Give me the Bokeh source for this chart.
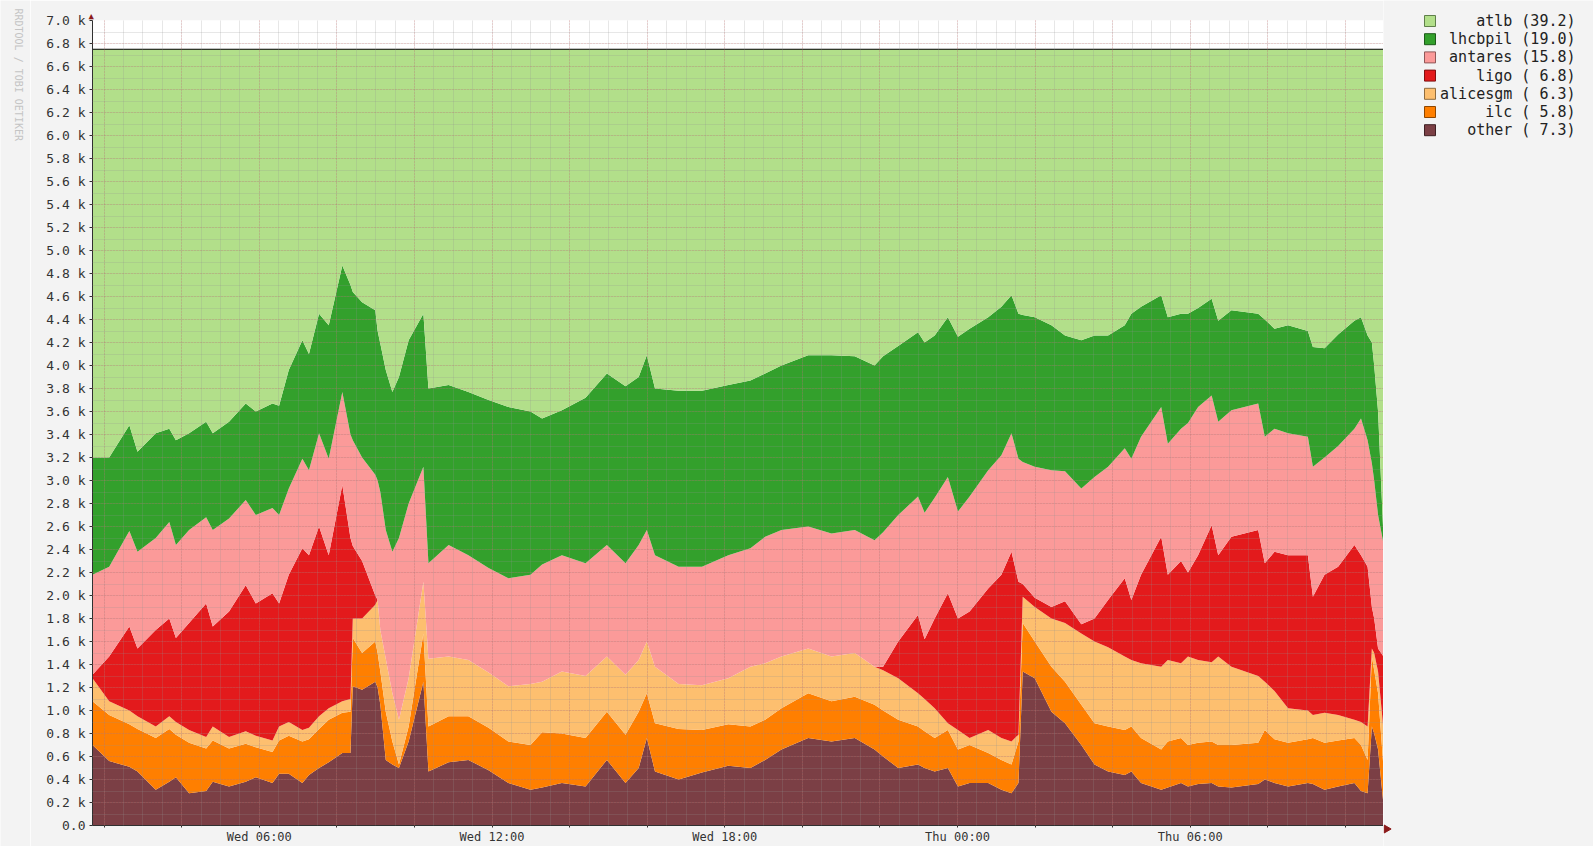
import math
from bokeh.plotting import figure
from bokeh.layouts import row
from bokeh.models import Range1d, FixedTicker, CustomJSTickFormatter, Title
from bokeh.core.properties import value
from bokeh.embed import file_html
from bokeh.resources import INLINE

# ---------------- data (hours since Wed 00:00, stacked levels in k) ----------------
hours = [1.70, 2.13, 2.65, 2.86, 3.33, 3.68, 3.85, 4.19, 4.63, 4.80,
         5.22, 5.65, 5.91, 6.34, 6.51, 6.76, 7.11, 7.28, 7.54, 7.79,
         8.14, 8.35, 8.41, 8.65, 8.99, 9.05, 9.12, 9.26, 9.43, 9.60,
         9.85, 10.23, 10.36, 10.88, 11.39, 11.91, 12.42, 12.99, 13.29, 13.80,
         14.41, 14.96, 15.44, 15.78, 15.99, 16.20, 16.81, 17.41, 18.09, 18.66,
         19.04, 19.46, 20.15, 20.75, 21.35, 21.86, 22.08, 22.47, 22.98, 23.15,
         23.41, 23.75, 24.01, 24.31, 24.79, 25.13, 25.39, 25.57, 25.68, 25.99,
         26.42, 26.77, 27.19, 27.53, 27.88, 28.31, 28.48, 28.73, 29.25, 29.42,
         29.76, 29.94, 30.20, 30.55, 30.72, 31.06, 31.75, 31.92, 32.17, 32.52,
         33.03, 33.16, 33.46, 33.81, 34.23, 34.40, 34.57, 34.68, 34.74, 34.84,
         34.98]

other_top = [.70, .56, .51, .47, .31, .38, .42, .28, .30, .38,
             .34, .38, .42, .37, .45, .45, .37, .44, .50, .55,
             .63, .63, 1.21, 1.18, 1.25, 1.20, 1.05, .57, .53, .50,
             .73, 1.25, .47, .55, .57, .48, .37, .31, .33, .37,
             .34, .57, .37, .50, .76, .47, .40, .46, .52, .50,
             .57, .66, .76, .73, .76, .66, .60, .50, .53, .50,
             .47, .50, .34, .37, .37, .31, .28, .37, 1.34, 1.28,
             .99, .89, .70, .53, .47, .44, .47, .37, .31, .33,
             .37, .34, .36, .37, .34, .33, .36, .40, .37, .34,
             .37, .36, .31, .34, .37, .30, .28, .86, .80, .66,
             .18]

ilc_top = [1.08, .96, .88, .84, .76, .84, .79, .72, .67, .74,
           .67, .71, .68, .64, .74, .78, .73, .75, .84, .92,
           .98, .99, 1.63, 1.50, 1.60, 1.50, 1.34, .99, .73, .53,
           .86, 1.67, .86, .95, .95, .85, .73, .70, .81, .80,
           .76, .99, .79, .99, 1.15, .89, .84, .83, .88, .86,
           .92, 1.02, 1.15, 1.08, 1.12, 1.05, 1.00, .92, .86, .82,
           .76, .83, .66, .70, .63, .57, .53, .73, 1.76, 1.60,
           1.38, 1.25, 1.05, .89, .86, .83, .86, .76, .66, .73,
           .76, .70, .72, .73, .70, .70, .72, .83, .75, .72,
           .75, .76, .72, .74, .76, .70, .57, 1.47, 1.35, 1.15,
           .50]

alicesgm_top = [1.28, 1.08, 1.00, .95, .86, .95, .90, .83, .77, .86,
                .77, .82, .78, .74, .86, .90, .83, .85, .95, 1.02,
                1.08, 1.10, 1.80, 1.80, 1.92, 1.96, 1.70, 1.45, 1.15, .92,
                1.28, 2.12, 1.45, 1.47, 1.44, 1.33, 1.21, 1.23, 1.25, 1.34,
                1.30, 1.47, 1.31, 1.44, 1.60, 1.38, 1.23, 1.22, 1.28, 1.38,
                1.41, 1.47, 1.54, 1.47, 1.50, 1.38, 1.35, 1.28, 1.15, 1.10,
                1.02, .89, .83, .76, .83, .76, .73, .79, 1.99, 1.90,
                1.80, 1.76, 1.67, 1.60, 1.55, 1.47, 1.44, 1.41, 1.38, 1.44,
                1.41, 1.47, 1.44, 1.42, 1.47, 1.38, 1.30, 1.25, 1.17, 1.02,
                1.00, .96, .98, .96, .92, .90, .86, 1.54, 1.50, 1.34,
                .83]

ligo_top = [1.31, 1.47, 1.73, 1.54, 1.70, 1.80, 1.63, 1.76, 1.93, 1.73,
            1.86, 2.09, 1.93, 2.02, 1.93, 2.18, 2.41, 2.35, 2.60, 2.35,
            2.96, 2.50, 2.43, 2.30, 2.00, 1.96, 1.70, 1.45, 1.15, .92,
            1.28, 2.12, 1.45, 1.47, 1.44, 1.33, 1.21, 1.23, 1.25, 1.34,
            1.30, 1.47, 1.31, 1.44, 1.60, 1.38, 1.23, 1.22, 1.28, 1.38,
            1.41, 1.47, 1.54, 1.47, 1.50, 1.38, 1.38, 1.60, 1.83, 1.62,
            1.80, 2.02, 1.80, 1.86, 2.06, 2.18, 2.38, 2.12, 2.10, 1.98,
            1.90, 1.95, 1.75, 1.80, 1.96, 2.15, 1.96, 2.18, 2.51, 2.18,
            2.30, 2.20, 2.35, 2.61, 2.35, 2.51, 2.57, 2.28, 2.38, 2.35,
            2.35, 1.99, 2.18, 2.25, 2.44, 2.35, 2.25, 1.90, 1.80, 1.54,
            1.47]

antares_top = [2.18, 2.25, 2.56, 2.38, 2.50, 2.64, 2.44, 2.57, 2.68, 2.57,
               2.67, 2.83, 2.70, 2.76, 2.70, 2.93, 3.19, 3.09, 3.41, 3.19,
               3.77, 3.40, 3.35, 3.20, 3.05, 3.00, 2.90, 2.57, 2.38, 2.50,
               2.80, 3.12, 2.28, 2.44, 2.35, 2.24, 2.15, 2.18, 2.27, 2.35,
               2.28, 2.44, 2.28, 2.44, 2.57, 2.35, 2.25, 2.25, 2.35, 2.41,
               2.51, 2.57, 2.60, 2.54, 2.57, 2.48, 2.55, 2.70, 2.86, 2.72,
               2.85, 3.03, 2.73, 2.86, 3.09, 3.22, 3.41, 3.19, 3.16, 3.12,
               3.09, 3.08, 2.93, 3.03, 3.12, 3.28, 3.19, 3.38, 3.64, 3.32,
               3.45, 3.50, 3.64, 3.74, 3.51, 3.61, 3.67, 3.38, 3.45, 3.41,
               3.38, 3.12, 3.20, 3.30, 3.45, 3.54, 3.35, 3.15, 3.00, 2.70,
               2.45]

lhcbpil_top = [3.20, 3.20, 3.48, 3.25, 3.41, 3.45, 3.35, 3.41, 3.51, 3.41,
               3.51, 3.67, 3.60, 3.67, 3.65, 3.96, 4.22, 4.10, 4.45, 4.35,
               4.87, 4.70, 4.64, 4.55, 4.48, 4.30, 4.19, 3.96, 3.77, 3.90,
               4.22, 4.45, 3.80, 3.83, 3.77, 3.70, 3.64, 3.60, 3.54, 3.61,
               3.72, 3.93, 3.82, 3.90, 4.09, 3.80, 3.78, 3.78, 3.83, 3.87,
               3.93, 4.00, 4.09, 4.09, 4.08, 4.00, 4.08, 4.17, 4.29, 4.20,
               4.26, 4.42, 4.25, 4.32, 4.42, 4.51, 4.61, 4.45, 4.44, 4.42,
               4.35, 4.26, 4.22, 4.26, 4.26, 4.35, 4.45, 4.51, 4.61, 4.42,
               4.45, 4.45, 4.50, 4.58, 4.39, 4.48, 4.45, 4.40, 4.32, 4.35,
               4.30, 4.16, 4.15, 4.27, 4.39, 4.42, 4.26, 4.20, 4.00, 3.60,
               2.50]

atlb_level = 6.75  # constant total (top of the stack)

series_names = ["atlb", "lhcbpil", "antares", "ligo", "alicesgm", "ilc", "other"]
series_pct = ["39.2", "19.0", "15.8", " 6.8", " 6.3", " 5.8", " 7.3"]
series_colors = ["#b2df8a", "#33a02c", "#fb9a99", "#e31a1c", "#fdbf6f", "#ff7f00", "#7b3f45"]
series_edge = ["#5f7f4a", "#1c5a19", "#8f5857", "#801010", "#8f6c3f", "#8f4700", "#3f2023"]

x_tick_hours = [6, 12, 18, 24, 30]
x_tick_labels = ["Wed 06:00", "Wed 12:00", "Wed 18:00", "Thu 00:00", "Thu 06:00"]

# ---------------- layout geometry ----------------
FONT = "DejaVu Sans Mono"
BG = "#f3f3f3"
H = 846
WM_W = 30           # strip with the vertical watermark
MAIN_W = 1353       # frame right edge lands at x = 1383
LEG_W = 210         # strip with the legend
BL, BT, BB = 62, 20, 17
AXIS_Y = 828.5      # page y of the time axis line

# ---------------- main figure ----------------
p = figure(width=MAIN_W, height=H,
           x_range=Range1d(1.70, 34.98), y_range=Range1d(0, 7.0),
           output_backend="svg", toolbar_location=None,
           min_border_left=BL, min_border_right=0,
           min_border_top=BT, min_border_bottom=BB,
           background_fill_color="#ffffff", border_fill_color=BG,
           outline_line_color=None)

n = len(hours)
atlb_top = [atlb_level] * n
zeros = [0.0] * n

tops = {"other": other_top, "ilc": ilc_top, "alicesgm": alicesgm_top,
        "ligo": ligo_top, "antares": antares_top, "lhcbpil": lhcbpil_top,
        "atlb": atlb_top}
stack_order = ["other", "ilc", "alicesgm", "ligo", "antares", "lhcbpil", "atlb"]
color_of = dict(zip(series_names, series_colors))

prev = zeros
for name in stack_order:
    p.varea(x=hours, y1=prev, y2=tops[name], fill_color=color_of[name], fill_alpha=1.0)
    prev = tops[name]

p.line(hours, atlb_top, line_color="#000000", line_width=1.2)

# axes
y_major = [round(0.2 * i, 1) for i in range(36)]
y_minor = [round(0.1 * i, 1) for i in range(71)]
p.yaxis.ticker = FixedTicker(ticks=y_major, minor_ticks=y_minor)
p.yaxis.formatter = CustomJSTickFormatter(
    code="return tick < 1e-9 ? '0.0' : tick.toFixed(1) + ' k';")

x_major = list(range(2, 35, 2))
x_minor = [2.0 + 0.5 * i for i in range(66)]
p.xaxis.ticker = FixedTicker(ticks=x_major, minor_ticks=x_minor)
overrides = {h: "" for h in x_major}
for h, lab in zip(x_tick_hours, x_tick_labels):
    overrides[h] = lab
p.xaxis.major_label_overrides = overrides

for ax in (p.xaxis[0], p.yaxis[0]):
    ax.axis_line_color = "#303030"
    ax.major_tick_line_color = "#303030"
    ax.minor_tick_line_color = None
    ax.major_tick_in = 0
    ax.major_tick_out = 3
    ax.major_label_text_font = FONT
    ax.major_label_text_color = "#333333"
    ax.major_label_text_font_size = "13px"
p.xaxis.major_tick_out = 2
p.xaxis.major_label_text_font_size = "12px"
p.xaxis.major_label_standoff = 0
p.yaxis.major_label_standoff = 3

# grid drawn over the areas, like rrdtool
p.xgrid.ticker = FixedTicker(ticks=x_major, minor_ticks=x_minor)
p.ygrid.ticker = FixedTicker(ticks=y_major, minor_ticks=y_minor)
for g in (p.xgrid[0], p.ygrid[0]):
    g.level = "overlay"
    g.grid_line_color = "#e05050"
    g.grid_line_alpha = 0.35
    g.grid_line_dash = "1 2"
    g.minor_grid_line_color = "#909090"
    g.minor_grid_line_alpha = 0.22

# arrow head on top of the value axis
p.add_layout(Title(text="\u25b2", align="left", offset=-4, standoff=0,
                   text_font=FONT, text_font_size="9px", text_color="#8b1a1a"),
             "above")


def strip(width):
    f = figure(width=width, height=H, x_range=Range1d(0, width), y_range=Range1d(0, H),
               output_backend="svg", toolbar_location=None, title=None,
               x_axis_location=None, y_axis_location=None,
               min_border_left=0, min_border_right=0,
               min_border_top=0, min_border_bottom=0,
               outline_line_color=None,
               background_fill_color=BG, border_fill_color=BG)
    f.grid.visible = False
    try:
        f.frame_align = False   # keep the strip's frame at full height
    except AttributeError:
        pass
    return f


# ---------------- watermark strip ----------------
wm = strip(WM_W)
wm.text(x=[18], y=[H - 8], text=["RRDTOOL / TOBI OETIKER"], angle=-math.pi / 2,
        text_font=value(FONT), text_font_size="10px", text_color="#c4c4c4",
        text_align="left", text_baseline="middle")

# ---------------- legend strip ----------------
lg = strip(LEG_W)
row_y = [H - 20.5 - 18.2 * i for i in range(len(series_names))]
lg.rect(x=[46.5] * len(series_names), y=row_y, width=11, height=11,
        fill_color=series_colors, line_color=series_edge, line_width=1)
legend_text = [f"{nm} ({pc})".replace(" ", "\u00a0") for nm, pc in zip(series_names, series_pct)]
lg.text(x=[192] * len(series_names), y=row_y, text=legend_text,
        text_font=value(FONT), text_font_size="15px", text_color="#222222",
        text_align="right", text_baseline="middle")
# arrow head at the right end of the time axis
lg.scatter(x=[3], y=[H - AXIS_Y], marker="triangle", angle=-math.pi / 2, size=8,
           fill_color="#8b1a1a", line_color="#8b1a1a")

layout = row(wm, p, lg, spacing=0)
open("out.html", "w").write(file_html(layout, INLINE))
